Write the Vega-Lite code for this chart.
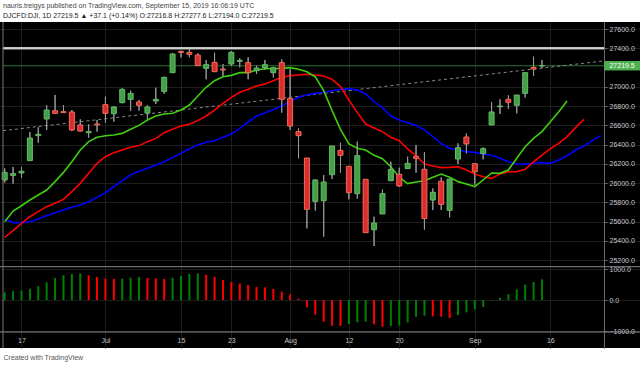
{
  "$schema": "https://vega.github.io/schema/vega-lite/v6.json",
  "width": 640,
  "height": 326,
  "autosize": {"type": "none"},
  "padding": {"left": 0, "top": 22, "right": 0, "bottom": 19},
  "background": "white",
  "title": {
    "text": "nauris.treigys published on TradingView.com, September 15, 2019 16:06:19 UTC",
    "subtitle": "DJCFD:DJI, 1D  27219.5 ▲ +37.1 (+0.14%) O:27216.8 H:27277.6 L:27194.0 C:27219.5",
    "anchor": "start",
    "frame": "group",
    "dx": 3,
    "offset": 3,
    "font": "Liberation Sans",
    "subtitleFont": "Liberation Sans",
    "fontSize": 7,
    "subtitleFontSize": 7,
    "fontWeight": "normal",
    "subtitleFontWeight": "normal",
    "color": "#444444",
    "subtitleColor": "#222222",
    "subtitlePadding": 3
  },
  "config": {
    "view": {"fill": "#000000", "stroke": null},
    "font": "Liberation Sans"
  },
  "datasets": {
    "candles": [
      {"i":0,"o":26033,"h":26154,"l":26005,"c":26112},
      {"i":1,"o":26081,"h":26168,"l":25995,"c":26099},
      {"i":2,"o":26106,"h":26168,"l":26057,"c":26123},
      {"i":3,"o":26234,"h":26531,"l":26234,"c":26469},
      {"i":4,"o":26493,"h":26580,"l":26420,"c":26507},
      {"i":5,"o":26666,"h":26808,"l":26552,"c":26759},
      {"i":6,"o":26752,"h":26915,"l":26718,"c":26725},
      {"i":7,"o":26742,"h":26811,"l":26730,"c":26732},
      {"i":8,"o":26739,"h":26759,"l":26541,"c":26552},
      {"i":9,"o":26604,"h":26663,"l":26535,"c":26541},
      {"i":10,"o":26524,"h":26611,"l":26472,"c":26535},
      {"i":11,"o":26614,"h":26656,"l":26535,"c":26604},
      {"i":12,"o":26815,"h":26898,"l":26628,"c":26725},
      {"i":13,"o":26721,"h":26801,"l":26638,"c":26791},
      {"i":14,"o":26836,"h":26984,"l":26829,"c":26974},
      {"i":15,"o":26870,"h":26960,"l":26749,"c":26932},
      {"i":16,"o":26842,"h":26863,"l":26753,"c":26808},
      {"i":17,"o":26728,"h":26811,"l":26666,"c":26791},
      {"i":18,"o":26853,"h":26991,"l":26822,"c":26870},
      {"i":19,"o":26953,"h":27105,"l":26926,"c":27099},
      {"i":20,"o":27147,"h":27348,"l":27147,"c":27341},
      {"i":21,"o":27368,"h":27375,"l":27306,"c":27358},
      {"i":22,"o":27358,"h":27389,"l":27306,"c":27337},
      {"i":23,"o":27330,"h":27348,"l":27220,"c":27220},
      {"i":24,"o":27192,"h":27278,"l":27078,"c":27230},
      {"i":25,"o":27254,"h":27354,"l":27157,"c":27157},
      {"i":26,"o":27185,"h":27237,"l":27112,"c":27175},
      {"i":27,"o":27237,"h":27372,"l":27216,"c":27358},
      {"i":28,"o":27265,"h":27296,"l":27202,"c":27275},
      {"i":29,"o":27251,"h":27306,"l":27078,"c":27147},
      {"i":30,"o":27168,"h":27223,"l":27133,"c":27195},
      {"i":31,"o":27199,"h":27278,"l":27175,"c":27230},
      {"i":32,"o":27147,"h":27209,"l":27098,"c":27199},
      {"i":33,"o":27251,"h":27285,"l":26732,"c":26870},
      {"i":34,"o":26881,"h":27182,"l":26552,"c":26593},
      {"i":35,"o":26535,"h":26569,"l":26258,"c":26493},
      {"i":36,"o":26261,"h":26261,"l":25531,"c":25728},
      {"i":37,"o":25811,"h":26040,"l":25715,"c":26033},
      {"i":38,"o":25818,"h":26085,"l":25445,"c":26012},
      {"i":39,"o":26088,"h":26386,"l":26043,"c":26386},
      {"i":40,"o":26341,"h":26420,"l":26109,"c":26289},
      {"i":41,"o":26175,"h":26175,"l":25832,"c":25901},
      {"i":42,"o":25891,"h":26431,"l":25839,"c":26285},
      {"i":43,"o":26040,"h":26040,"l":25486,"c":25486},
      {"i":44,"o":25517,"h":25652,"l":25348,"c":25587},
      {"i":45,"o":25680,"h":25936,"l":25680,"c":25891},
      {"i":46,"o":26026,"h":26223,"l":26026,"c":26144},
      {"i":47,"o":26092,"h":26161,"l":25964,"c":25971},
      {"i":48,"o":26151,"h":26275,"l":26151,"c":26206},
      {"i":49,"o":26278,"h":26396,"l":26109,"c":26258},
      {"i":50,"o":26144,"h":26323,"l":25517,"c":25632},
      {"i":51,"o":25825,"h":25946,"l":25721,"c":25905},
      {"i":52,"o":26019,"h":26061,"l":25721,"c":25780},
      {"i":53,"o":25718,"h":26043,"l":25645,"c":26043},
      {"i":54,"o":26251,"h":26413,"l":26199,"c":26368},
      {"i":55,"o":26479,"h":26517,"l":26310,"c":26407},
      {"i":56,"o":26202,"h":26202,"l":25981,"c":26119},
      {"i":57,"o":26306,"h":26372,"l":26247,"c":26358},
      {"i":58,"o":26604,"h":26842,"l":26604,"c":26739},
      {"i":59,"o":26794,"h":26870,"l":26718,"c":26801},
      {"i":60,"o":26870,"h":26912,"l":26773,"c":26839},
      {"i":61,"o":26808,"h":26915,"l":26725,"c":26915},
      {"i":62,"o":26932,"h":27147,"l":26891,"c":27147},
      {"i":63,"o":27202,"h":27313,"l":27112,"c":27185},
      {"i":64,"o":27216.8,"h":27277.6,"l":27194.0,"c":27219.5}
    ],
    "ma": [
      {"i":0,"lips":25600,"teeth":25438,"jaw":25628},
      {"i":1,"lips":25711,"teeth":25507,"jaw":25590},
      {"i":2,"lips":25766,"teeth":25583,"jaw":25590},
      {"i":3,"lips":25825,"teeth":25652,"jaw":25600},
      {"i":4,"lips":25877,"teeth":25704,"jaw":25628},
      {"i":5,"lips":25929,"teeth":25756,"jaw":25663},
      {"i":6,"lips":26016,"teeth":25791,"jaw":25694},
      {"i":7,"lips":26112,"teeth":25832,"jaw":25721},
      {"i":8,"lips":26223,"teeth":25912,"jaw":25749},
      {"i":9,"lips":26344,"teeth":25998,"jaw":25773},
      {"i":10,"lips":26431,"teeth":26102,"jaw":25808},
      {"i":11,"lips":26476,"teeth":26206,"jaw":25853},
      {"i":12,"lips":26493,"teeth":26275,"jaw":25901},
      {"i":13,"lips":26500,"teeth":26317,"jaw":25964},
      {"i":14,"lips":26517,"teeth":26344,"jaw":26026},
      {"i":15,"lips":26559,"teeth":26372,"jaw":26085},
      {"i":16,"lips":26600,"teeth":26390,"jaw":26125},
      {"i":17,"lips":26656,"teeth":26431,"jaw":26154},
      {"i":18,"lips":26697,"teeth":26465,"jaw":26189},
      {"i":19,"lips":26718,"teeth":26524,"jaw":26223},
      {"i":20,"lips":26725,"teeth":26559,"jaw":26268},
      {"i":21,"lips":26759,"teeth":26593,"jaw":26310},
      {"i":22,"lips":26811,"teeth":26611,"jaw":26358},
      {"i":23,"lips":26905,"teeth":26649,"jaw":26396},
      {"i":24,"lips":26995,"teeth":26697,"jaw":26424},
      {"i":25,"lips":27064,"teeth":26759,"jaw":26441},
      {"i":26,"lips":27105,"teeth":26829,"jaw":26476},
      {"i":27,"lips":27119,"teeth":26891,"jaw":26510},
      {"i":28,"lips":27147,"teeth":26943,"jaw":26569},
      {"i":29,"lips":27147,"teeth":26974,"jaw":26635},
      {"i":30,"lips":27175,"teeth":27009,"jaw":26697},
      {"i":31,"lips":27188,"teeth":27029,"jaw":26732},
      {"i":32,"lips":27190,"teeth":27064,"jaw":26765},
      {"i":33,"lips":27192,"teeth":27099,"jaw":26801},
      {"i":34,"lips":27199,"teeth":27116,"jaw":26846},
      {"i":35,"lips":27182,"teeth":27123,"jaw":26891},
      {"i":36,"lips":27157,"teeth":27130,"jaw":26915},
      {"i":37,"lips":27105,"teeth":27123,"jaw":26932},
      {"i":38,"lips":26960,"teeth":27112,"jaw":26943},
      {"i":39,"lips":26753,"teeth":27078,"jaw":26960},
      {"i":40,"lips":26559,"teeth":27002,"jaw":26974},
      {"i":41,"lips":26407,"teeth":26863,"jaw":26981},
      {"i":42,"lips":26362,"teeth":26732,"jaw":26967},
      {"i":43,"lips":26344,"teeth":26614,"jaw":26926},
      {"i":44,"lips":26289,"teeth":26573,"jaw":26846},
      {"i":45,"lips":26254,"teeth":26535,"jaw":26784},
      {"i":46,"lips":26171,"teeth":26476,"jaw":26697},
      {"i":47,"lips":26061,"teeth":26441,"jaw":26656},
      {"i":48,"lips":25995,"teeth":26355,"jaw":26628},
      {"i":49,"lips":26012,"teeth":26285,"jaw":26600},
      {"i":50,"lips":26026,"teeth":26199,"jaw":26552},
      {"i":51,"lips":26061,"teeth":26178,"jaw":26483},
      {"i":52,"lips":26095,"teeth":26161,"jaw":26410},
      {"i":53,"lips":26061,"teeth":26164,"jaw":26362},
      {"i":54,"lips":26016,"teeth":26171,"jaw":26344},
      {"i":55,"lips":25991,"teeth":26137,"jaw":26327},
      {"i":56,"lips":25964,"teeth":26095,"jaw":26320},
      {"i":57,"lips":26033,"teeth":26067,"jaw":26303},
      {"i":58,"lips":26106,"teeth":26050,"jaw":26289},
      {"i":59,"lips":26102,"teeth":26095,"jaw":26258},
      {"i":60,"lips":26137,"teeth":26119,"jaw":26223},
      {"i":61,"lips":26258,"teeth":26119,"jaw":26199},
      {"i":62,"lips":26379,"teeth":26144,"jaw":26195},
      {"i":63,"lips":26465,"teeth":26220,"jaw":26206},
      {"i":64,"lips":26535,"teeth":26292,"jaw":26213},
      {"i":65,"lips":26638,"teeth":26358,"jaw":26206},
      {"i":66,"lips":26742,"teeth":26413,"jaw":26240},
      {"i":67,"lips":26853,"teeth":26483,"jaw":26285},
      {"i":68,"lips":null,"teeth":26576,"jaw":26344},
      {"i":69,"lips":null,"teeth":26662,"jaw":26386},
      {"i":70,"lips":null,"teeth":null,"jaw":26441},
      {"i":71,"lips":null,"teeth":null,"jaw":26493}
    ],
    "trend": [
      {"i":-0.2,"v":26545},
      {"i":71.39,"v":27269}
    ],
    "ao": [
      {"i":0,"v":247},{"i":1,"v":290},{"i":2,"v":300},{"i":3,"v":365},{"i":4,"v":450},
      {"i":5,"v":570},{"i":6,"v":710},{"i":7,"v":800},{"i":8,"v":840},{"i":9,"v":860},
      {"i":10,"v":800},{"i":11,"v":740},{"i":12,"v":690},{"i":13,"v":680},{"i":14,"v":690},
      {"i":15,"v":720},{"i":16,"v":740},{"i":17,"v":710},{"i":18,"v":700},{"i":19,"v":680},
      {"i":20,"v":720},{"i":21,"v":775},{"i":22,"v":840},{"i":23,"v":860},{"i":24,"v":815},
      {"i":25,"v":750},{"i":26,"v":645},{"i":27,"v":580},{"i":28,"v":530},{"i":29,"v":485},
      {"i":30,"v":420},{"i":31,"v":410},{"i":32,"v":355},{"i":33,"v":270},{"i":34,"v":183},
      {"i":35,"v":43},{"i":36,"v":-237},{"i":37,"v":-473},{"i":38,"v":-700},{"i":39,"v":-828},
      {"i":40,"v":-835},{"i":41,"v":-774},{"i":42,"v":-720},{"i":43,"v":-700},{"i":44,"v":-785},
      {"i":45,"v":-860},{"i":46,"v":-835},{"i":47,"v":-820},{"i":48,"v":-720},{"i":49,"v":-540},
      {"i":50,"v":-505},{"i":51,"v":-527},{"i":52,"v":-540},{"i":53,"v":-580},{"i":54,"v":-484},
      {"i":55,"v":-400},{"i":56,"v":-300},{"i":57,"v":-225},{"i":58,"v":-20},{"i":59,"v":75},
      {"i":60,"v":183},{"i":61,"v":344},{"i":62,"v":495},{"i":63,"v":580},{"i":64,"v":667}
    ]
  },
  "layer": [
    {
      "data": {"name": "candles"},
      "mark": {"type": "rule", "color": "#9a9a9a", "strokeWidth": 1},
      "encoding": {
        "x": {
          "field": "i", "type": "quantitative",
          "scale": {"domain": [-0.56, 75.68], "nice": false, "zero": false, "padding": 0},
          "axis": {
            "orient": "bottom", "offset": -16,
            "values": [2, 12, 21, 27, 34, 41, 47, 56, 65],
            "labelExpr": "datum.value == 2 ? '17' : datum.value == 12 ? 'Jul' : datum.value == 21 ? '15' : datum.value == 27 ? '23' : datum.value == 34 ? 'Aug' : datum.value == 41 ? '12' : datum.value == 47 ? '20' : datum.value == 56 ? 'Sep' : '16'",
            "grid": true, "gridColor": "#1e1e1e", "gridWidth": 1,
            "domain": false, "ticks": false,
            "labelColor": "#c8c8c8", "labelFontSize": 7, "labelPadding": 4,
            "title": "Created with TradingView",
            "titleColor": "#555555", "titleFontSize": 7, "titleFontWeight": "normal",
            "titleAnchor": "start", "titleAlign": "left", "titleX": 3, "titleY": 25, "titleBaseline": "middle"
          }
        },
        "y": {
          "field": "l", "type": "quantitative",
          "scale": {"domain": [24289, 27673], "nice": false, "zero": false},
          "axis": {
            "orient": "right", "offset": -36,
            "values": [25200, 25400, 25600, 25800, 26000, 26200, 26400, 26600, 26800, 27000, 27400, 27600],
            "format": ".1f",
            "grid": true, "gridColor": "#1e1e1e", "gridWidth": 1,
            "domain": true, "domainColor": "#6a6a6a",
            "ticks": true, "tickSize": 3, "tickColor": "#6a6a6a",
            "labelColor": "#c8c8c8", "labelFontSize": 7, "labelPadding": 2,
            "title": null
          }
        },
        "y2": {"field": "h"}
      }
    },
    {
      "data": {"name": "ao"},
      "transform": [
        {"window": [{"op": "lag", "field": "v", "as": "prev"}], "sort": [{"field": "i"}]}
      ],
      "mark": {"type": "bar", "size": 2},
      "encoding": {
        "x": {"field": "i", "type": "quantitative", "scale": {"domain": [-0.56, 75.68], "nice": false, "zero": false, "padding": 0}},
        "y": {
          "field": "v", "type": "quantitative",
          "scale": {"domain": [-1548, 8968], "nice": false, "zero": false},
          "axis": {
            "orient": "right", "offset": -36,
            "values": [-1000, 0, 1000],
            "format": ".1f",
            "grid": true, "gridColor": "#1e1e1e", "gridWidth": 1,
            "domain": true, "domainColor": "#6a6a6a",
            "ticks": true, "tickSize": 3, "tickColor": "#6a6a6a",
            "labelColor": "#c8c8c8", "labelFontSize": 7, "labelPadding": 2,
            "title": null
          }
        },
        "y2": {"datum": 0},
        "color": {"condition": {"test": "datum.prev == null || datum.v >= datum.prev", "value": "#008000"}, "value": "#ff0000"}
      }
    },
    {
      "data": {"name": "trend"},
      "mark": {"type": "rule", "color": "#d0d0d0", "strokeWidth": 2},
      "encoding": {
        "x": {"datum": -0.2, "type": "quantitative", "scale": {"domain": [-0.56, 75.68], "nice": false, "zero": false, "padding": 0}},
        "x2": {"datum": 71.39},
        "y": {"datum": 27400, "type": "quantitative", "scale": {"domain": [24289, 27673], "nice": false, "zero": false}, "axis": null}
      }
    },
    {
      "data": {"name": "trend"},
      "mark": {"type": "rule", "color": "#1f5a24", "strokeWidth": 1},
      "encoding": {
        "x": {"datum": -0.2, "type": "quantitative", "scale": {"domain": [-0.56, 75.68], "nice": false, "zero": false, "padding": 0}},
        "x2": {"datum": 71.39},
        "y": {"datum": 27219.5, "type": "quantitative", "scale": {"domain": [24289, 27673], "nice": false, "zero": false}, "axis": null}
      }
    },
    {
      "data": {"name": "trend"},
      "mark": {"type": "line", "color": "#8a8a8a", "strokeWidth": 1, "strokeDash": [3, 3]},
      "encoding": {
        "x": {"field": "i", "type": "quantitative", "scale": {"domain": [-0.56, 75.68], "nice": false, "zero": false, "padding": 0}},
        "y": {"field": "v", "type": "quantitative", "scale": {"domain": [24289, 27673], "nice": false, "zero": false}, "axis": null}
      }
    },
    {
      "data": {"name": "ma"},
      "mark": {"type": "line", "color": "#0000ff", "strokeWidth": 1.6},
      "encoding": {
        "x": {"field": "i", "type": "quantitative", "scale": {"domain": [-0.56, 75.68], "nice": false, "zero": false, "padding": 0}},
        "y": {"field": "jaw", "type": "quantitative", "scale": {"domain": [24289, 27673], "nice": false, "zero": false}, "axis": null}
      }
    },
    {
      "data": {"name": "ma"},
      "mark": {"type": "line", "color": "#ff0000", "strokeWidth": 1.6},
      "encoding": {
        "x": {"field": "i", "type": "quantitative", "scale": {"domain": [-0.56, 75.68], "nice": false, "zero": false, "padding": 0}},
        "y": {"field": "teeth", "type": "quantitative", "scale": {"domain": [24289, 27673], "nice": false, "zero": false}, "axis": null}
      }
    },
    {
      "data": {"name": "ma"},
      "mark": {"type": "line", "color": "#3fcf0f", "strokeWidth": 1.6},
      "encoding": {
        "x": {"field": "i", "type": "quantitative", "scale": {"domain": [-0.56, 75.68], "nice": false, "zero": false, "padding": 0}},
        "y": {"field": "lips", "type": "quantitative", "scale": {"domain": [24289, 27673], "nice": false, "zero": false}, "axis": null}
      }
    },
    {
      "data": {"name": "candles"},
      "mark": {"type": "rule", "color": "#9a9a9a", "strokeWidth": 1},
      "encoding": {
        "x": {"field": "i", "type": "quantitative", "scale": {"domain": [-0.56, 75.68], "nice": false, "zero": false, "padding": 0}},
        "y": {"field": "l", "type": "quantitative", "scale": {"domain": [24289, 27673], "nice": false, "zero": false}, "axis": null},
        "y2": {"field": "h"}
      }
    },
    {
      "data": {"name": "candles"},
      "mark": {"type": "bar", "size": 5, "strokeWidth": 1},
      "encoding": {
        "x": {"field": "i", "type": "quantitative", "scale": {"domain": [-0.56, 75.68], "nice": false, "zero": false, "padding": 0}},
        "y": {"field": "o", "type": "quantitative", "scale": {"domain": [24289, 27673], "nice": false, "zero": false}, "axis": null},
        "y2": {"field": "c"},
        "color": {"condition": {"test": "datum.c >= datum.o", "value": "#43a047"}, "value": "#dd2c2c"},
        "stroke": {"condition": {"test": "datum.c >= datum.o", "value": "#66bb6a"}, "value": "#ef6c5a"}
      }
    },
    {
      "data": {"name": "trend"},
      "mark": {"type": "rect", "color": "#4caf50"},
      "encoding": {
        "x": {"datum": 71.45, "type": "quantitative", "scale": {"domain": [-0.56, 75.68], "nice": false, "zero": false, "padding": 0}},
        "x2": {"datum": 75.68},
        "y": {"datum": 27172, "type": "quantitative", "scale": {"domain": [24289, 27673], "nice": false, "zero": false}, "axis": null},
        "y2": {"datum": 27267}
      }
    },
    {
      "data": {"values": [{"t": "27219.5"}]},
      "mark": {"type": "text", "color": "#ffffff", "fontSize": 7, "align": "center", "baseline": "middle"},
      "encoding": {
        "x": {"datum": 73.55, "type": "quantitative", "scale": {"domain": [-0.56, 75.68], "nice": false, "zero": false, "padding": 0}},
        "y": {"datum": 27219.5, "type": "quantitative", "scale": {"domain": [24289, 27673], "nice": false, "zero": false}, "axis": null},
        "text": {"field": "t"}
      }
    },
    {
      "data": {"values": [{"t": "sep"}]},
      "mark": {"type": "rule", "color": "#888888", "strokeWidth": 1},
      "encoding": {
        "y": {"datum": 25133, "type": "quantitative", "scale": {"domain": [24289, 27673], "nice": false, "zero": false}, "axis": null}
      }
    },
    {
      "data": {"values": [{"t": "sep2"}]},
      "mark": {"type": "rule", "color": "#888888", "strokeWidth": 1},
      "encoding": {
        "y": {"datum": -1032, "type": "quantitative", "scale": {"domain": [-1548, 8968], "nice": false, "zero": false}, "axis": null}
      }
    },
    {
      "data": {"values": [{"t": "border"}]},
      "mark": {"type": "rule", "color": "#777777", "strokeWidth": 1},
      "encoding": {
        "x": {"datum": -0.2, "type": "quantitative", "scale": {"domain": [-0.56, 75.68], "nice": false, "zero": false, "padding": 0}}
      }
    }
  ],
  "resolve": {"scale": {"y": "independent"}, "axis": {"y": "independent"}}
}
